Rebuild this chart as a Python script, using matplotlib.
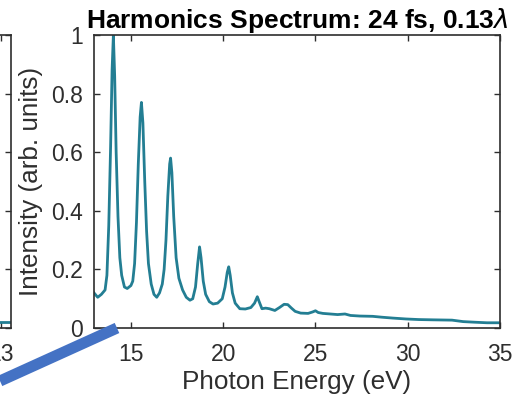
import numpy as np
import matplotlib
matplotlib.use("Agg")
import matplotlib.pyplot as plt
from matplotlib.lines import Line2D

plt.rcParams["font.family"] = ["Liberation Sans", "DejaVu Sans"]

# spectrum: photon energy (eV) vs normalised intensity
energy = [13.0, 13.2, 13.4, 13.6, 13.7, 13.8, 13.9, 13.98, 14.05, 14.12,
          14.2, 14.3, 14.4, 14.5, 14.65, 14.8, 15.0, 15.1, 15.2, 15.3,
          15.4, 15.5, 15.57, 15.65, 15.75, 15.85, 15.95, 16.1, 16.25, 16.4,
          16.55, 16.7, 16.8, 16.9, 17.0, 17.1, 17.15, 17.22, 17.32, 17.45,
          17.6, 17.8, 18.0, 18.2, 18.35, 18.5, 18.62, 18.72, 18.8, 18.92,
          19.05, 19.25, 19.45, 19.7, 19.95, 20.1, 20.22, 20.3, 20.38, 20.5,
          20.65, 20.9, 21.2, 21.5, 21.7, 21.85, 21.95, 22.1, 22.3, 22.5,
          22.8, 23.05, 23.3, 23.5, 23.7, 23.9, 24.2, 24.6, 24.85, 25.0,
          25.15, 25.4, 25.8, 26.2, 26.6, 26.9, 27.4, 28.1, 28.6, 29.2,
          29.9, 30.6, 31.4, 32.4, 33.0, 33.6, 34.3, 35.0]
intensity = [0.12, 0.105, 0.115, 0.13, 0.18, 0.35, 0.62, 0.88, 1.0, 0.86,
             0.6, 0.38, 0.24, 0.18, 0.14, 0.135, 0.145, 0.16, 0.22, 0.36,
             0.56, 0.72, 0.77, 0.7, 0.5, 0.33, 0.22, 0.15, 0.115, 0.105,
             0.12, 0.15, 0.2, 0.3, 0.45, 0.56, 0.58, 0.53, 0.38, 0.24,
             0.17, 0.13, 0.105, 0.095, 0.1, 0.14, 0.22, 0.277, 0.24, 0.16,
             0.115, 0.09, 0.082, 0.085, 0.1, 0.14, 0.19, 0.209, 0.18, 0.12,
             0.085, 0.066, 0.065, 0.07, 0.085, 0.107, 0.09, 0.066, 0.068, 0.066,
             0.06, 0.07, 0.081, 0.08, 0.068, 0.057, 0.051, 0.05, 0.055, 0.059,
             0.053, 0.05, 0.048, 0.046, 0.048, 0.043, 0.041, 0.04, 0.037, 0.034,
             0.031, 0.029, 0.028, 0.027, 0.022, 0.02, 0.018, 0.018]

# the neighbouring panel that is cut off at the left edge
left_energy = [5.0, 13.5]
left_intensity = [0.02, 0.02]

xticks = [15, 20, 25, 30, 35]
yticks = [0, 0.2, 0.4, 0.6, 0.8, 1]
ytick_labels = ["0", "0.2", "0.4", "0.6", "0.8", "1"]

LINE = "#237E93"
AX = "#2e2e2e"

fig = plt.figure(figsize=(5.26, 4.05), dpi=100)


def style(ax):
    ax.tick_params(direction="in", length=4, width=1, colors=AX,
                   labelsize=16.5, top=True, right=True)
    for s in ax.spines.values():
        s.set_color(AX)
        s.set_linewidth(1.2)


# cut-off panel
axl = fig.add_axes([-0.77, 0.190, 0.79, 0.7235])
axl.plot(left_energy, left_intensity, color=LINE, lw=2)
axl.set_xlim(-8.7, 13.49)
axl.set_ylim(0, 1)
axl.set_xticks([13])
axl.set_yticks(yticks)
axl.set_yticklabels([])
style(axl)
axl.tick_params(axis="x", pad=11)

# main panel
ax = fig.add_axes([94 / 526, 0.190, 406 / 526, 0.7235])
ax.plot(energy, intensity, color=LINE, lw=2)
ax.set_xlim(13, 35)
ax.set_ylim(0, 1)
ax.set_xticks(xticks)
ax.set_yticks(yticks)
ax.set_yticklabels(ytick_labels)
style(ax)
ax.tick_params(axis="x", pad=11)
ax.tick_params(axis="y", pad=8)
ax.set_xlabel("Photon Energy (eV)", fontsize=18.8, color=AX, labelpad=3)
ax.set_ylabel("Intensity (arb. units)", fontsize=18.8, color=AX, labelpad=6)
ax.set_title(r"Harmonics Spectrum: 24 fs, 0.13$\lambda$", fontsize=19,
             fontweight="bold", pad=5)

# pointer line from the annotation overlay
fig.add_artist(Line2D([0, 117 / 526], [1 - 381 / 405, 1 - 328 / 405],
                      transform=fig.transFigure, color="#4472C4", lw=8,
                      solid_capstyle="butt"))

fig.savefig("out.png", dpi=100)
